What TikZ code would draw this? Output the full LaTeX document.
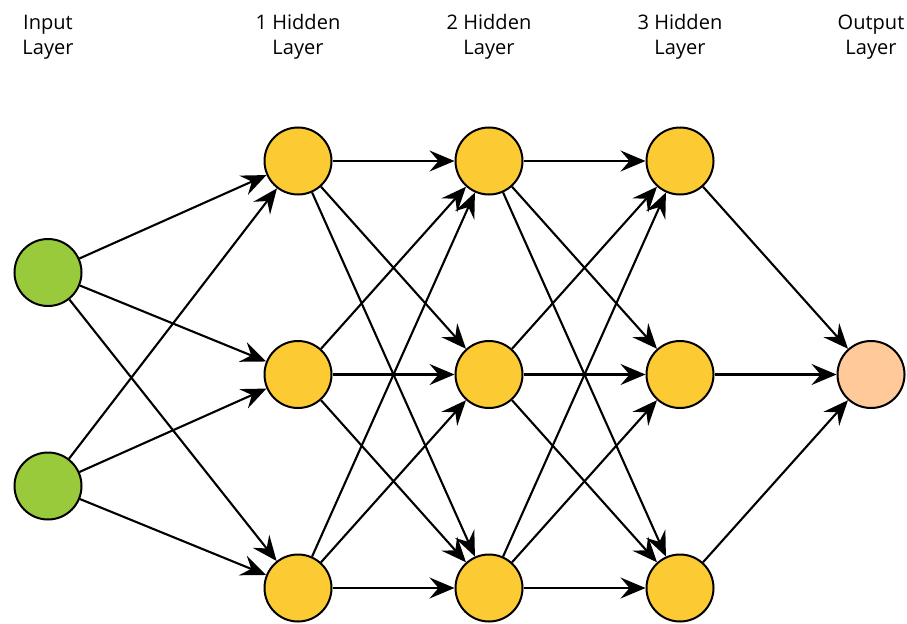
\documentclass[tikz,border=0pt]{standalone}
\usepackage{fontspec}
\setmainfont{Open Sans}
\usetikzlibrary{arrows.meta}

\definecolor{inputgreen}{HTML}{99CA3C}
\definecolor{hiddenyellow}{HTML}{FCCA33}
\definecolor{outputpeach}{HTML}{FFC999}

\begin{document}
\begin{tikzpicture}[
        every node/.style={align=center},
        neuron/.style={circle, draw=black, line width=0.04cm, minimum size=1.34cm, inner sep=0pt},
        conn/.style={line width=0.042cm, -{Stealth[length=0.5cm, width=0.42cm, inset=0.18cm]}},
        layerlabel/.style={font=\fontsize{11.4}{14.2}\selectfont}
    ]
        \useasboundingbox (0,0) rectangle (18.14,12.46);

        % Layer labels
        \node[layerlabel] (linput) at (0.96, 11.72) {Input\\ Layer};
        \node[layerlabel] (lhida) at (5.96, 11.72) {1 Hidden\\ Layer};
        \node[layerlabel] (lhidb) at (9.78, 11.72) {2 Hidden\\ Layer};
        \node[layerlabel] (lhidc) at (13.60, 11.72) {3 Hidden\\ Layer};
        \node[layerlabel] (loutput) at (17.42, 11.72) {Output\\ Layer};

        % Input layer
        \node[neuron, fill=inputgreen] (in1) at (0.96, 7.01) {};
        \node[neuron, fill=inputgreen] (in2) at (0.96, 2.74) {};

        % Hidden layers
        \node[neuron, fill=hiddenyellow] (ha1) at (5.96, 9.24) {};
        \node[neuron, fill=hiddenyellow] (ha2) at (5.96, 4.97) {};
        \node[neuron, fill=hiddenyellow] (ha3) at (5.96, 0.70) {};

        \node[neuron, fill=hiddenyellow] (hb1) at (9.78, 9.24) {};
        \node[neuron, fill=hiddenyellow] (hb2) at (9.78, 4.97) {};
        \node[neuron, fill=hiddenyellow] (hb3) at (9.78, 0.70) {};

        \node[neuron, fill=hiddenyellow] (hc1) at (13.60, 9.24) {};
        \node[neuron, fill=hiddenyellow] (hc2) at (13.60, 4.97) {};
        \node[neuron, fill=hiddenyellow] (hc3) at (13.60, 0.70) {};

        % Output layer
        \node[neuron, fill=outputpeach] (out) at (17.42, 4.97) {};

        % Input -> 1 Hidden
        \draw[conn] (in1) edge (ha1) edge (ha2) edge (ha3);
        \draw[conn] (in2) edge (ha1) edge (ha2) edge (ha3);

        % 1 Hidden -> 2 Hidden
        \draw[conn] (ha1) edge (hb1) edge (hb2) edge (hb3);
        \draw[conn] (ha2) edge (hb1) edge (hb2) edge (hb3);
        \draw[conn] (ha3) edge (hb1) edge (hb2) edge (hb3);

        % 2 Hidden -> 3 Hidden
        \draw[conn] (hb1) edge (hc1) edge (hc2) edge (hc3);
        \draw[conn] (hb2) edge (hc1) edge (hc2) edge (hc3);
        \draw[conn] (hb3) edge (hc1) edge (hc2) edge (hc3);

        % 3 Hidden -> Output
        \draw[conn] (hc1) edge (out);
        \draw[conn] (hc2) edge (out);
        \draw[conn] (hc3) edge (out);

    \end{tikzpicture}
\end{document}
